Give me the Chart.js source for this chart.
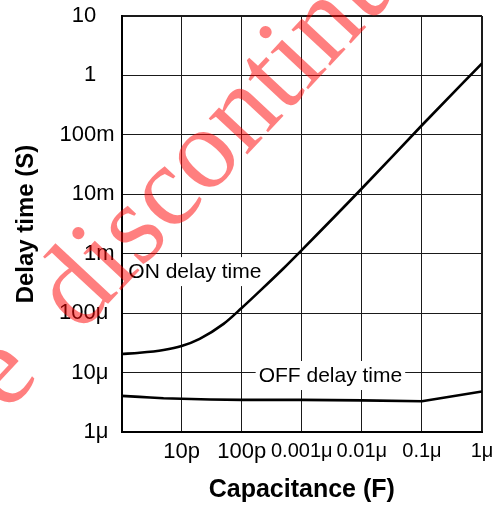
<!DOCTYPE html>
<html>
<head>
<meta charset="utf-8">
<script src="https://cdn.jsdelivr.net/npm/chart.js@4.4.1/dist/chart.umd.min.js"></script>
<style>
  html, body { margin: 0; padding: 0; background: #fff; }
  #c { display: block; }
</style>
</head>
<body>
<canvas id="c" width="496" height="506"></canvas>
<script>
// ---- Data ----
const onCapacitance = [1e-12, 2e-12, 5e-12, 1e-11, 2e-11, 5e-11, 1e-10, 2e-10, 5e-10, 1e-9, 1e-8, 1e-7, 1e-6];
const onDelay       = [20.5e-6, 21.5e-6, 24e-6, 28e-6, 37e-6, 66e-6, 122e-6, 235e-6, 570e-6, 1.15e-3, 12.5e-3, 145e-3, 1.6];

const offCapacitance = [1e-12, 2e-12, 3e-12, 5e-12, 1e-11, 3e-11, 1e-10, 1e-9, 1e-8, 1e-7, 1e-6];
const offDelay       = [4.05e-6, 3.9e-6, 3.8e-6, 3.7e-6, 3.63e-6, 3.53e-6, 3.47e-6, 3.47e-6, 3.4e-6, 3.3e-6, 4.8e-6];

const xTickValues = [1e-12, 1e-11, 1e-10, 1e-9, 1e-8, 1e-7, 1e-6];
const xTickLabels = ['', '10p', '100p', '0.001\u03bc', '0.01\u03bc', '0.1\u03bc', '1\u03bc'];

const yTickValues = [1e-6, 1e-5, 1e-4, 1e-3, 1e-2, 1e-1, 1, 10];
const yTickLabels = ['1\u03bc', '10\u03bc', '100\u03bc', '1m', '10m', '100m', '1', '10'];

const curveLabels = ['ON delay time', 'OFF delay time'];
const curveLabelAnchors = [[1.3e-12, 5.1e-4], [3.0e-9, 9.1e-6]]; // [capacitance, delay]
const watermarkText = 'To be discontinued';

// ---- Plugins ----
const SANS = '"Liberation Sans", Arial, Helvetica, sans-serif';

const curveLabelPlugin = {
  id: 'curveLabels',
  beforeDatasetsDraw(chart) {
    const {ctx, scales: {x, y}} = chart;
    ctx.save();
    ctx.font = '21px ' + SANS;
    ctx.textBaseline = 'middle';
    curveLabels.forEach((t, i) => {
      const px = x.getPixelForValue(curveLabelAnchors[i][0]);
      const py = y.getPixelForValue(curveLabelAnchors[i][1]);
      const w = ctx.measureText(t).width;
      const left = i === 0 ? px : px - w / 2;
      ctx.fillStyle = '#fff';
      ctx.fillRect(left - 3, py - 14, w + 6, 29);
      ctx.fillStyle = '#000';
      ctx.textAlign = 'left';
      ctx.fillText(t, left, py + 1);
    });
    ctx.restore();
  }
};

const watermarkPlugin = {
  id: 'watermark',
  afterDraw(chart) {
    const {ctx} = chart;
    ctx.save();
    ctx.font = '115px "Liberation Serif", "Times New Roman", serif';
    ctx.fillStyle = 'rgba(255,0,0,0.5)';
    ctx.textBaseline = 'alphabetic';
    ctx.translate(80, 334);
    ctx.rotate(-47 * Math.PI / 180);
    const prefix = 'To be  ';
    const pw = ctx.measureText(prefix).width;
    ctx.textAlign = 'left';
    ctx.fillText('To be  discontinued', -pw, 0);
    ctx.restore();
  }
};

const edgeWidth = (last) => (c) => (c.index === last ? 2 : 1);

new Chart(document.getElementById('c'), {
  type: 'line',
  data: {
    datasets: [
      {
        label: curveLabels[0],
        data: onCapacitance.map((c, i) => ({x: c, y: onDelay[i]})),
        borderColor: '#000',
        borderWidth: 2.6,
        pointRadius: 0,
        cubicInterpolationMode: 'monotone',
        fill: false
      },
      {
        label: curveLabels[1],
        data: offCapacitance.map((c, i) => ({x: c, y: offDelay[i]})),
        borderColor: '#000',
        borderWidth: 2.6,
        pointRadius: 0,
        tension: 0,
        fill: false
      }
    ]
  },
  options: {
    responsive: false,
    animation: false,
    devicePixelRatio: 1,
    layout: {padding: {left: 0, right: 14, top: 16, bottom: 0}},
    plugins: {legend: {display: false}, tooltip: {enabled: false}},
    scales: {
      x: {
        type: 'logarithmic',
        min: 1e-12,
        max: 1e-6,
        afterBuildTicks: (s) => { s.ticks = xTickValues.map(v => ({value: v})); },
        afterFit: (s) => { s.height = 74; },
        ticks: {
          callback: (v, i) => xTickLabels[i],
          autoSkip: false,
          maxRotation: 0,
          minRotation: 0,
          padding: 0,
          color: '#000',
          font: (c) => ({family: SANS, size: (xTickLabels[c.index] || '').endsWith('\u03bc') ? 20 : 22})
        },
        grid: {color: '#1a1a1a', lineWidth: edgeWidth(xTickValues.length - 1), drawTicks: true, tickLength: 7, tickColor: 'rgba(0,0,0,0)'},
        border: {color: '#000', width: 2},
        title: {
          display: true,
          text: 'Capacitance (F)',
          color: '#000',
          font: {family: SANS, size: 25, weight: 'bold'},
          padding: {top: 0, bottom: 1}
        }
      },
      y: {
        type: 'logarithmic',
        min: 1e-6,
        max: 10,
        afterBuildTicks: (s) => { s.ticks = yTickValues.map(v => ({value: v})); },
        afterFit: (s) => { s.width = 121.5; },
        ticks: {
          callback: (v, i) => {
            const t = yTickLabels[i];
            if (/^[0-9]+$/.test(t)) return t + '   ';
            if (t.endsWith('\u03bc')) return t + ' ';
            return t;
          },
          autoSkip: false,
          padding: 0,
          color: '#000',
          font: {family: SANS, size: 22}
        },
        grid: {color: '#1a1a1a', lineWidth: edgeWidth(yTickValues.length - 1), drawTicks: true, tickLength: 7, tickColor: 'rgba(0,0,0,0)'},
        border: {color: '#000', width: 2},
        title: {
          display: true,
          text: 'Delay time (S)',
          color: '#000',
          font: {family: SANS, size: 24, weight: 'bold'},
          padding: {top: 11.6, bottom: 0}
        }
      }
    }
  },
  plugins: [curveLabelPlugin, watermarkPlugin]
});
</script>
</body>
</html>
